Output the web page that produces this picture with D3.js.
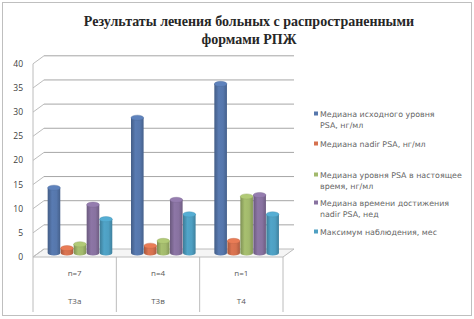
<!DOCTYPE html>
<html>
<head>
<meta charset="utf-8">
<script src="https://cdn.jsdelivr.net/npm/d3@7"></script>
<style>
  body { margin: 0; background: #fff; }
  svg { display: block; }
</style>
</head>
<body>
<div id="canvas"></div>
<script>
"use strict"

/* data */
let categories = ["Т3а", "Т3в", "Т4"];
let nLabels = ["n=7", "n=4", "n=1"];
let seriesNames = [
    "Медиана исходного уровня PSA, нг/мл",
    "Медиана nadir PSA, нг/мл",
    "Медиана уровня PSA в настоящее время, нг/мл",
    "Медиана времени достижения nadir PSA, нед",
    "Максимум наблюдения, мес"
];
let legendLines = [
    ["Медиана исходного уровня", "PSA, нг/мл"],
    ["Медиана nadir PSA, нг/мл"],
    ["Медиана уровня PSA в настоящее", "время, нг/мл"],
    ["Медиана времени достижения", "nadir PSA, нед"],
    ["Максимум наблюдения, мес"]
];
let baselinePSA = [13.5, 28, 35];
let nadirPSA = [1, 1.5, 2.5];
let currentPSA = [1.8, 2.5, 11.7];
let timeToNadir = [10, 11, 12];
let maxFollowUp = [7, 8, 8];
let yTicks = [0, 5, 10, 15, 20, 25, 30, 35, 40];

let seriesValues = [baselinePSA, nadirPSA, currentPSA, timeToNadir, maxFollowUp];
let colors = ["#5677AC", "#D5714F", "#A2B96C", "#8872A0", "#4E9FC2"];

/* drawing config */
let svgWidth = 474;
let svgHeight = 319;
let frontLeft = 33;
let frontRight = 283;
let floorFront = 257;
let depthX = 11;
let depthY = 8;
let tableBottom = 312;

let svg = d3.select("#canvas")
    .append("svg")
    .attr("width", svgWidth)
    .attr("height", svgHeight);

/* outer chart border */
svg.append("rect")
    .attr("x", 2.5)
    .attr("y", 2.5)
    .attr("width", svgWidth - 5)
    .attr("height", svgHeight - 6)
    .attr("fill", "#fff")
    .attr("stroke", "#bfbfbf");

/* title */
let title = svg.append("text")
    .attr("text-anchor", "middle")
    .attr("font-family", "'Liberation Serif', 'DejaVu Serif', serif")
    .attr("font-weight", "bold")
    .attr("font-size", 14)
    .attr("fill", "#262626");
title.append("tspan").attr("x", 249).attr("y", 26)
    .text("Результаты лечения больных с распространенными");
title.append("tspan").attr("x", 249).attr("y", 44)
    .text("формами РПЖ");

/* scales: back wall values and bar (mid depth) values */
let yBack = d3.scaleLinear()
    .domain([0, 40])
    .range([floorFront - depthY, floorFront - depthY - 193.2]);

let yBar = d3.scaleLinear()
    .domain([0, 40])
    .range([floorFront - depthY / 2, floorFront - depthY / 2 - 193.2]);

let xGroup = d3.scaleBand()
    .domain(categories)
    .range([frontLeft + depthX / 2, frontRight + depthX / 2])
    .paddingInner(0.22)
    .paddingOuter(0.11);

let xSeries = d3.scaleBand()
    .domain(d3.range(seriesValues.length))
    .range([0, xGroup.bandwidth()]);

/* floor */
svg.append("path")
    .attr("d", "M" + frontLeft + "," + floorFront +
        " L" + frontRight + "," + floorFront +
        " L" + (frontRight + depthX) + "," + (floorFront - depthY) +
        " L" + (frontLeft + depthX) + "," + (floorFront - depthY) + " Z")
    .attr("fill", "#f5f5f5")
    .attr("stroke", "#bcbcbc");

/* gridlines on back wall with slanted part on left wall */
for (let i = 0; i < yTicks.length; i++) {
    let y = yBack(yTicks[i]);
    if (yTicks[i] > 0) {
        svg.append("line")
            .attr("x1", frontLeft + depthX)
            .attr("y1", y)
            .attr("x2", frontRight + depthX)
            .attr("y2", y)
            .attr("stroke", "#a6a6a6");
    }
    svg.append("line")
        .attr("x1", frontLeft)
        .attr("y1", y + depthY)
        .attr("x2", frontLeft + depthX)
        .attr("y2", y)
        .attr("stroke", "#bcbcbc");

    svg.append("text")
        .attr("x", 23)
        .attr("y", y + depthY)
        .attr("dy", "0.35em")
        .attr("text-anchor", "end")
        .attr("font-family", "Open Sans")
        .attr("font-size", 8.5)
        .attr("fill", "#404040")
        .text(yTicks[i]);
}

/* left axis line */
svg.append("line")
    .attr("x1", frontLeft)
    .attr("y1", yBack(40) + depthY)
    .attr("x2", frontLeft)
    .attr("y2", tableBottom)
    .attr("stroke", "#bcbcbc");

/* category table lines */
for (let i = 1; i <= categories.length; i++) {
    let x = frontLeft + i * (frontRight - frontLeft) / categories.length;
    svg.append("line")
        .attr("x1", x)
        .attr("y1", floorFront)
        .attr("x2", x)
        .attr("y2", tableBottom)
        .attr("stroke", "#bcbcbc");
}

/* category labels, two levels */
for (let i = 0; i < categories.length; i++) {
    let cx = frontLeft + (i + 0.5) * (frontRight - frontLeft) / categories.length;
    svg.append("text")
        .attr("x", cx)
        .attr("y", 276)
        .attr("text-anchor", "middle")
        .attr("font-family", "Open Sans")
        .attr("font-size", 8)
        .attr("fill", "#595959")
        .text(nLabels[i]);
    svg.append("text")
        .attr("x", cx)
        .attr("y", 304)
        .attr("text-anchor", "middle")
        .attr("font-family", "Open Sans")
        .attr("font-size", 8)
        .attr("fill", "#595959")
        .text(categories[i]);
}

/* gradients for cylinders */
let defs = svg.append("defs");
for (let s = 0; s < colors.length; s++) {
    let c = d3.color(colors[s]);
    let g = defs.append("linearGradient")
        .attr("id", "cyl" + s)
        .attr("x1", "0%").attr("x2", "100%")
        .attr("y1", "0%").attr("y2", "0%");
    g.append("stop").attr("offset", "0%").attr("stop-color", c.darker(0.7));
    g.append("stop").attr("offset", "35%").attr("stop-color", c.brighter(0.1));
    g.append("stop").attr("offset", "70%").attr("stop-color", c);
    g.append("stop").attr("offset", "100%").attr("stop-color", c.darker(0.6));
}

/* cylinders */
let ry = 2.6;
for (let i = 0; i < categories.length; i++) {
    for (let s = 0; s < seriesValues.length; s++) {
        let x = xGroup(categories[i]) + xSeries(s);
        let w = xSeries.bandwidth() * 0.97;
        let yTop = yBar(seriesValues[s][i]);
        let yBase = yBar(0);
        svg.append("path")
            .attr("d", "M" + x + "," + yTop +
                " L" + x + "," + yBase +
                " A" + (w / 2) + "," + ry + " 0 0 0 " + (x + w) + "," + yBase +
                " L" + (x + w) + "," + yTop + " Z")
            .attr("fill", "url(#cyl" + s + ")");
        svg.append("ellipse")
            .attr("cx", x + w / 2)
            .attr("cy", yTop)
            .attr("rx", w / 2)
            .attr("ry", ry)
            .attr("fill", d3.color(colors[s]).brighter(0.25))
            .attr("stroke", d3.color(colors[s]).darker(0.3))
            .attr("stroke-width", 0.4);
    }
}

/* legend */
let legendY = [115, 145, 176, 204, 233];
for (let s = 0; s < seriesNames.length; s++) {
    svg.append("rect")
        .attr("x", 314)
        .attr("y", legendY[s] - 3.5)
        .attr("width", 4)
        .attr("height", 4)
        .attr("fill", colors[s]);
    for (let l = 0; l < legendLines[s].length; l++) {
        svg.append("text")
            .attr("x", 320)
            .attr("y", legendY[s] + l * 11)
            .attr("dy", "0.3em")
            .attr("font-family", "DejaVu Sans")
            .attr("font-size", 7.9)
            .attr("fill", "#666666")
            .text(legendLines[s][l]);
    }
}
</script>
</body>
</html>
